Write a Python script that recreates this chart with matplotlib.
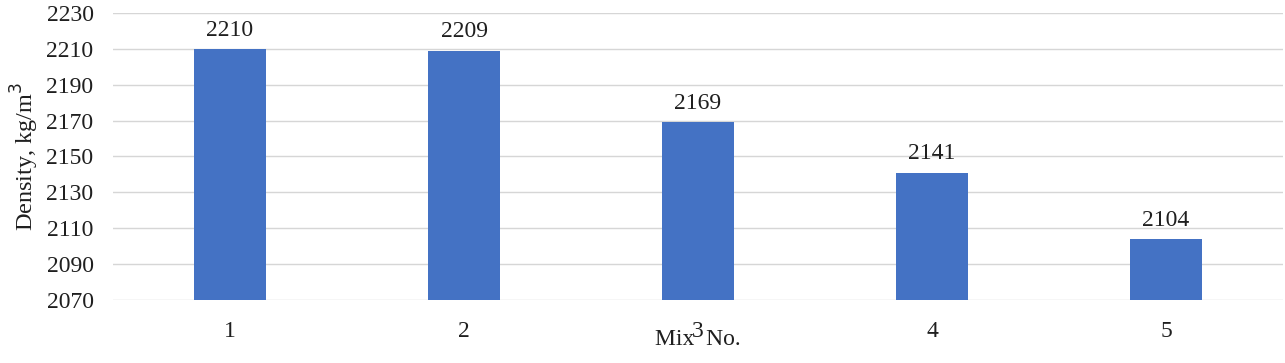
import matplotlib
matplotlib.use("Agg")
import matplotlib.pyplot as plt

categories = ["1", "2", "3", "4", "5"]
values = [2210, 2209, 2169, 2141, 2104]
yticks = [2070, 2090, 2110, 2130, 2150, 2170, 2190, 2210, 2230]

plt.rcParams['font.family'] = ['Liberation Serif', 'DejaVu Serif']
FS = 17
TC = "#1f1f1f"

fig = plt.figure(figsize=(12.85, 3.63), dpi=100)
ax = fig.add_axes([113/1285, 1 - 300/363, (1283-113)/1285, (300-13)/363])

x = list(range(len(categories)))
bars = ax.bar(x, values, width=0.31, color="#4472C4", zorder=3)
for xi, v in zip(x, values):
    ax.annotate(str(v), (xi, v), xytext=(0, 6), textcoords="offset points",
                ha="center", va="bottom", fontsize=FS, color=TC)

ax.set_xlim(-0.5, len(categories) - 0.5)
ax.set_ylim(2070, 2230)
ax.set_yticks(yticks)
ax.set_xticks(x)
ax.set_xticklabels(categories)
ax.tick_params(axis="both", length=0, labelsize=FS, colors=TC)
ax.tick_params(axis="x", pad=15)
ax.tick_params(axis="y", pad=14)
ax.yaxis.grid(True, color="#d6d6d6", linewidth=1, zorder=0)
for s in ax.spines.values():
    s.set_visible(False)

ax.set_xlabel("Mix  No.", fontsize=FS, color=TC, labelpad=-9)
ax.set_ylabel("Density, kg/m$^3$", fontsize=17.5, color=TC, labelpad=4)

fig.savefig("out.png", dpi=100)
